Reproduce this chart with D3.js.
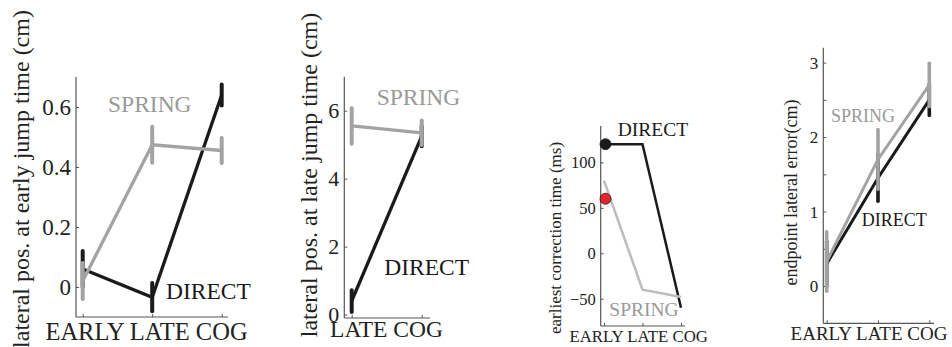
<!DOCTYPE html>
<html>
<head>
<meta charset="utf-8">
<script src="https://cdn.jsdelivr.net/npm/d3@7"></script>
<style>
  html, body { margin: 0; padding: 0; background: #fff; }
  svg { display: block; }
  svg text { font-family: "Liberation Serif", "DejaVu Serif", "Noto Serif", Tinos, "Times New Roman", Times, serif; }
</style>
</head>
<body>
<svg id="chart" width="952" height="347"></svg>
<script>
// ---- data ----
const catsEarly = ["EARLY", "LATE", "COG"];
const catsLate = ["LATE", "COG"];

// panel A: lateral position at early jump time (cm)
const earlyPosDirect = [0.06, -0.034, 0.64];
const earlyPosDirectErr = [0.06, 0.047, 0.035];
const earlyPosSpring = [0.02, 0.474, 0.455];
const earlyPosSpringErr = [0.06, 0.06, 0.042];
const earlyPosTicks = [0, 0.2, 0.4, 0.6];

// panel B: lateral position at late jump time (cm)
const latePosDirect = [0.4, 5.25];
const latePosDirectErr = [0.32, 0.3];
const latePosSpring = [5.55, 5.35];
const latePosSpringErr = [0.52, 0.36];
const latePosTicks = [0, 2, 4, 6];

// panel C: earliest correction time (ms)
const corrDirect = [120, 120, -60];
const corrSpring = [80, -40, -48];
const corrMarkers = [{ cat: "EARLY", value: 120, color: "#1a1a1a" },
                     { cat: "EARLY", value: 60, color: "#e8242b" }];
const corrTicks = [-50, 0, 50, 100];

// panel D: endpoint lateral error (cm)
const endDirect = [0.3, 1.45, 2.5];
const endDirectErr = [0.3, 0.31, 0.21];
const endSpring = [0.33, 1.7, 2.7];
const endSpringErr = [0.4, 0.4, 0.29];
const endTicks = [0, 0.5, 1, 1.5, 2, 2.5, 3];

// ---- layout / styling ----
const BLACK = "#1a1a1a", GREY = "#a3a3a3", AXIS = "#555";

const panels = [
  {
    cats: catsEarly, direct: earlyPosDirect, directErr: earlyPosDirectErr,
    spring: earlyPosSpring, springErr: earlyPosSpringErr, ticks: earlyPosTicks,
    domain: [-0.1, 0.7], box: { x0: 76, x1: 228, y0: 77, y1: 317 }, pts: [82.7, 221.7],
    tickFont: 23, xFont: 24.5, xMid: 146.5, xBase: 340, lineW: 3.3, errW: 4, springColor: GREY,
    ylabel: "lateral pos. at early jump time (cm)", yFont: 24, yBase: 29, yMid: 179,
    lblFont: 23.5, springLbl: [108, 112], directLbl: [166, 299]
  },
  {
    cats: catsLate, direct: latePosDirect, directErr: latePosDirectErr,
    spring: latePosSpring, springErr: latePosSpringErr, ticks: latePosTicks,
    domain: [-0.1, 7], box: { x0: 344.3, x1: 430, y0: 76.7, y1: 318 }, pts: [351.7, 421.7],
    tickFont: 22, xFont: 23.5, xMid: 386.5, xBase: 337, lineW: 3.3, errW: 4, springColor: GREY,
    ylabel: "lateral pos. at late jump time (cm)", yFont: 24, yBase: 317, yMid: 175,
    lblFont: 23.5, springLbl: [376.7, 105], directLbl: [384.3, 275]
  },
  {
    cats: catsEarly, direct: corrDirect, spring: corrSpring, markers: corrMarkers, ticks: corrTicks,
    domain: [-80, 140], box: { x0: 600.7, x1: 685, y0: 126, y1: 326 }, pts: [604, 681],
    tickFont: 16.5, xFont: 16.8, xMid: 638.7, xBase: 342, lineW: 2.5, springColor: "#bcbcbc",
    ylabel: "earliest correction time (ms)", yFont: 17, yBase: 561, yMid: 238,
    lblFont: 19.5, springLbl: [609.3, 316], directLbl: [617.7, 136]
  },
  {
    cats: catsEarly, direct: endDirect, directErr: endDirectErr,
    spring: endSpring, springErr: endSpringErr, ticks: endTicks, labelInts: true,
    domain: [-0.5, 3.2], box: { x0: 823.3, x1: 934, y0: 47.7, y1: 323.3 }, pts: [826.7, 929.3],
    tickFont: 17, xFont: 19, xMid: 869, xBase: 340, lineW: 3, errW: 3.6, springColor: GREY,
    ylabel: "endpoint lateral error(cm)", yFont: 18, yBase: 797, yMid: 192.5,
    lblFont: 18, springLbl: [831, 121.7], directLbl: [861.7, 226]
  }
];

const svg = d3.select("#chart");

panels.forEach(p => {
  const g = svg.append("g");
  const x = d3.scalePoint().domain(p.cats).range(p.pts);
  const y = d3.scaleLinear().domain(p.domain).range([p.box.y1, p.box.y0]);

  // y axis: inward ticks
  const yAxis = d3.axisLeft(y).tickValues(p.ticks).tickSizeInner(-3).tickSizeOuter(0).tickPadding(5)
    .tickFormat(d => (p.labelInts && !Number.isInteger(d)) ? "" : d3.format("")(d));
  const ya = g.append("g").attr("transform", `translate(${p.box.x0},0)`).call(yAxis);
  ya.attr("font-family", null);
  ya.select(".domain").remove();
  ya.selectAll(".tick line").attr("stroke", AXIS);
  ya.selectAll(".tick text").attr("font-size", p.tickFont).attr("fill", "#222");

  // x axis: inward ticks, category names set as one line
  const xAxis = d3.axisBottom(x).tickSizeInner(-3).tickSizeOuter(0).tickFormat("");
  const xa = g.append("g").attr("transform", `translate(0,${p.box.y1})`).call(xAxis);
  xa.select(".domain").remove();
  xa.selectAll(".tick line").attr("stroke", AXIS);

  // axis lines
  g.append("line").attr("x1", p.box.x0).attr("x2", p.box.x0).attr("y1", p.box.y0).attr("y2", p.box.y1)
    .attr("stroke", AXIS).attr("stroke-width", 1.2);
  g.append("line").attr("x1", p.box.x0).attr("x2", p.box.x1).attr("y1", p.box.y1).attr("y2", p.box.y1)
    .attr("stroke", AXIS).attr("stroke-width", 1.2);

  g.append("text").attr("x", p.xMid).attr("y", p.xBase)
    .attr("text-anchor", "middle").attr("font-size", p.xFont).attr("fill", "#222")
    .text(p.cats.join(" "));

  // y label
  g.append("text").attr("transform", `translate(${p.yBase},${p.yMid}) rotate(-90)`)
    .attr("text-anchor", "middle").attr("font-size", p.yFont).attr("fill", "#222")
    .text(p.ylabel);

  const line = d3.line().x(d => x(d.c)).y(d => y(d.v));

  const drawSeries = (vals, errs, color, width) => {
    const pts = vals.map((v, i) => ({ c: p.cats[i], v, e: errs ? errs[i] : 0 }));
    g.append("path").datum(pts).attr("d", line).attr("fill", "none")
      .attr("stroke", color).attr("stroke-width", width).attr("stroke-linejoin", "miter");
    if (errs) {
      g.selectAll(null).data(pts).enter().append("line")
        .attr("x1", d => x(d.c)).attr("x2", d => x(d.c))
        .attr("y1", d => y(d.v - d.e)).attr("y2", d => y(d.v + d.e))
        .attr("stroke", color).attr("stroke-width", p.errW).attr("stroke-linecap", "round");
    }
  };

  drawSeries(p.direct, p.directErr, BLACK, p.lineW);
  drawSeries(p.spring, p.springErr, p.springColor, p.lineW);

  if (p.markers) {
    g.selectAll(null).data(p.markers).enter().append("circle")
      .attr("cx", d => x(d.cat) + 1.5).attr("cy", d => y(d.value)).attr("r", 5.5)
      .attr("fill", d => d.color).attr("stroke", "#1a1a1a").attr("stroke-width", 0.8);
  }

  g.append("text").attr("x", p.springLbl[0]).attr("y", p.springLbl[1])
    .attr("font-size", p.lblFont).attr("fill", "#999").text("SPRING");
  g.append("text").attr("x", p.directLbl[0]).attr("y", p.directLbl[1])
    .attr("font-size", p.lblFont).attr("fill", BLACK).text("DIRECT");
});
</script>
</body>
</html>
